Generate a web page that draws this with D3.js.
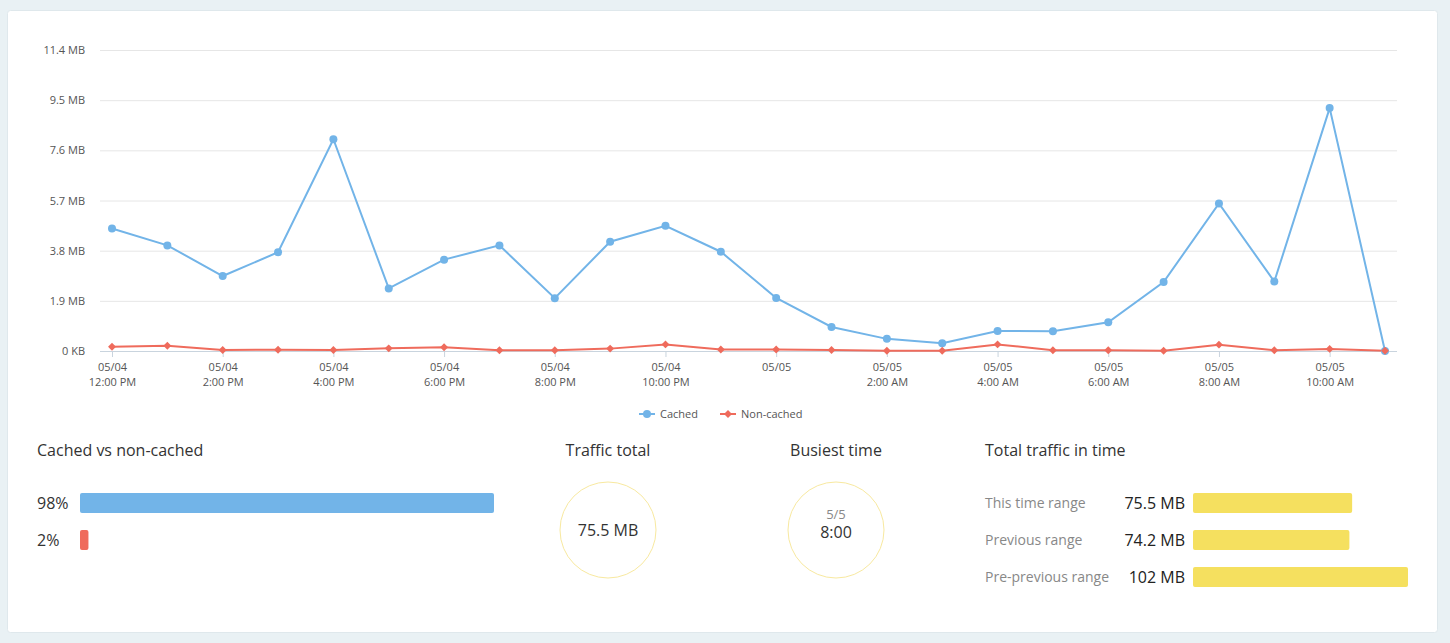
<!DOCTYPE html>
<html>
<head>
<meta charset="utf-8">
<script src="https://cdn.jsdelivr.net/npm/d3@7"></script>
<style>
  body { margin: 0; background: #e9f1f4; font-family: "Open Sans", sans-serif; }
  .canva { width: 1450px; height: 643px; }
</style>
</head>
<body>
<div class="canva"></div>
<script>
// hourly samples, values in MB
const hours = ["2017-05-04T12:00", "2017-05-04T13:00", "2017-05-04T14:00", "2017-05-04T15:00",
               "2017-05-04T16:00", "2017-05-04T17:00", "2017-05-04T18:00", "2017-05-04T19:00",
               "2017-05-04T20:00", "2017-05-04T21:00", "2017-05-04T22:00", "2017-05-04T23:00",
               "2017-05-05T00:00", "2017-05-05T01:00", "2017-05-05T02:00", "2017-05-05T03:00",
               "2017-05-05T04:00", "2017-05-05T05:00", "2017-05-05T06:00", "2017-05-05T07:00",
               "2017-05-05T08:00", "2017-05-05T09:00", "2017-05-05T10:00", "2017-05-05T11:00"];
const cached = [4.64, 4.00, 2.84, 3.74, 8.02, 2.37, 3.46, 4.00, 2.00, 4.14, 4.74, 3.76,
                2.01, 0.91, 0.46, 0.29, 0.76, 0.75, 1.09, 2.61, 5.59, 2.63, 9.20, 0];
const nonCached = [0.16, 0.20, 0.04, 0.05, 0.04, 0.10, 0.14, 0.03, 0.03, 0.09, 0.25, 0.06,
                   0.06, 0.04, 0.01, 0.01, 0.25, 0.03, 0.03, 0.01, 0.24, 0.03, 0.08, 0.01];
const yTicks = [0, 1.9, 3.8, 5.7, 7.6, 9.5, 11.4];
const yTickLabels = ["0 KB", "1.9 MB", "3.8 MB", "5.7 MB", "7.6 MB", "9.5 MB", "11.4 MB"];
const seriesNames = ["Cached", "Non-cached"];

const shareLabels = ["98%", "2%"];
const shareValues = [98, 2];

const trafficTotal = "75.5 MB";
const busiestDay = "5/5";
const busiestHour = "8:00";

const rangeNames = ["This time range", "Previous range", "Pre-previous range"];
const rangeValues = [75.5, 74.2, 102];
const rangeLabels = ["75.5 MB", "74.2 MB", "102 MB"];

const blue = "#72b4e8";
const red = "#ef6b5c";
const yellow = "#f5e05f";

const svg = d3.select(".canva").append("svg")
              .attr("width", 1450)
              .attr("height", 643);

// card
svg.append("rect")
   .attr("x", 7.5).attr("y", 10.5)
   .attr("width", 1430).attr("height", 622)
   .attr("rx", 3)
   .attr("fill", "#fff")
   .attr("stroke", "#dfe8ec");

const parseTime = d3.timeParse("%Y-%m-%dT%H:%M");
const dates = hours.map(parseTime);

const x = d3.scaleTime()
            .domain(d3.extent(dates))
            .range([112, 1385]);
const y = d3.scaleLinear()
            .domain([0, 11.4])
            .range([351, 50]);

// grid + y labels
const yAxis = d3.axisLeft(y)
                .tickValues(yTicks)
                .tickSize(-1297)
                .tickPadding(15)
                .tickFormat((d, i) => yTickLabels[i]);
const gy = svg.append("g")
              .attr("transform", "translate(100,0)")
              .call(yAxis);
gy.select(".domain").remove();
gy.selectAll(".tick line").attr("stroke", "#e6e6e6");
gy.selectAll(".tick text")
  .attr("fill", "#555")
  .style("font-size", "11px")
  .style("font-family", "Open Sans");

// x axis
const dateFmt = d3.timeFormat("%m/%d");
const timeFmt = d3.timeFormat("%-I:%M %p");
const xAxis = d3.axisBottom(x)
                .tickValues(dates.filter((d, i) => i % 2 == 0))
                .tickSize(6)
                .tickSizeOuter(0)
                .tickFormat("");
const gx = svg.append("g")
              .attr("transform", "translate(0,351)")
              .call(xAxis);
gx.select(".domain")
  .attr("d", "M100,0.5H1397")
  .attr("stroke", "#c9d4de");
gx.selectAll(".tick line").attr("stroke", "#c9d4de");
gx.selectAll(".tick").each(function(d) {
    const t = d3.select(this).append("text")
                .attr("fill", "#555")
                .attr("text-anchor", "middle")
                .style("font-size", "11px")
                .style("font-family", "Open Sans");
    t.append("tspan").attr("x", 0).attr("y", 20).text(dateFmt(d));
    if (d.getHours() != 0) {
        t.append("tspan").attr("x", 0).attr("y", 35).text(timeFmt(d));
    }
});

// lines
const line = d3.line()
               .x((d, i) => x(dates[i]))
               .y(d => y(d));

svg.append("path")
   .datum(cached)
   .attr("d", line)
   .attr("fill", "none")
   .attr("stroke", blue)
   .attr("stroke-width", 2);

svg.append("path")
   .datum(nonCached)
   .attr("d", line)
   .attr("fill", "none")
   .attr("stroke", red)
   .attr("stroke-width", 2);

svg.selectAll(".cachedDot")
   .data(cached)
   .enter()
   .append("circle")
   .attr("class", "cachedDot")
   .attr("cx", (d, i) => x(dates[i]))
   .attr("cy", d => y(d))
   .attr("r", 4)
   .attr("fill", blue);

const diamond = d3.symbol().type(d3.symbolDiamond2).size(40);
svg.selectAll(".nonCachedDot")
   .data(nonCached)
   .enter()
   .append("path")
   .attr("class", "nonCachedDot")
   .attr("d", diamond)
   .attr("transform", (d, i) => `translate(${x(dates[i])},${y(d)})`)
   .attr("fill", red);

// legend
const legend = svg.append("g").attr("transform", "translate(639,414)");
const legendItems = legend.selectAll("g")
    .data(seriesNames)
    .enter()
    .append("g")
    .attr("transform", (d, i) => `translate(${i * 81},0)`);
legendItems.append("line")
    .attr("x1", 0).attr("x2", 16)
    .attr("stroke", (d, i) => i == 0 ? blue : red)
    .attr("stroke-width", 2);
legendItems.each(function(d, i) {
    const g = d3.select(this);
    if (i == 0) {
        g.append("circle").attr("cx", 8).attr("r", 4).attr("fill", blue);
    } else {
        g.append("path").attr("d", diamond).attr("transform", "translate(8,0)").attr("fill", red);
    }
});
legendItems.append("text")
    .attr("x", 21).attr("y", 4)
    .attr("fill", "#555")
    .style("font-size", "11px")
    .text(d => d);

// bottom panels
function title(txt, px, anchor) {
    svg.append("text")
       .attr("x", px).attr("y", 456)
       .attr("text-anchor", anchor)
       .attr("fill", "#333")
       .style("font-size", "16px")
       .text(txt);
}
title("Cached vs non-cached", 37, "start");
title("Traffic total", 608, "middle");
title("Busiest time", 836, "middle");
title("Total traffic in time", 985, "start");

// cached vs non-cached bars
const share = d3.scaleLinear().domain([0, 98]).range([0, 414]);
svg.selectAll(".shareBar")
   .data(shareValues)
   .enter()
   .append("rect")
   .attr("class", "shareBar")
   .attr("x", 80)
   .attr("y", (d, i) => 493 + i * 37)
   .attr("width", d => share(d))
   .attr("height", 20)
   .attr("rx", 2)
   .attr("fill", (d, i) => i == 0 ? blue : red);
svg.selectAll(".shareLabel")
   .data(shareLabels)
   .enter()
   .append("text")
   .attr("class", "shareLabel")
   .attr("x", 37)
   .attr("y", (d, i) => 509 + i * 37)
   .attr("fill", "#333")
   .style("font-size", "16px")
   .text(d => d);

// circles
svg.append("circle")
   .attr("cx", 608).attr("cy", 530).attr("r", 48)
   .attr("fill", "none").attr("stroke", "#f8e9a0");
svg.append("text")
   .attr("x", 608).attr("y", 536)
   .attr("text-anchor", "middle")
   .attr("fill", "#333")
   .style("font-size", "16px")
   .text(trafficTotal);

svg.append("circle")
   .attr("cx", 836).attr("cy", 530).attr("r", 48)
   .attr("fill", "none").attr("stroke", "#f8e9a0");
svg.append("text")
   .attr("x", 836).attr("y", 519)
   .attr("text-anchor", "middle")
   .attr("fill", "#888")
   .style("font-size", "13px")
   .text(busiestDay);
svg.append("text")
   .attr("x", 836).attr("y", 538)
   .attr("text-anchor", "middle")
   .attr("fill", "#333")
   .style("font-size", "16px")
   .text(busiestHour);

// total traffic in time
const rangeX = d3.scaleLinear().domain([0, 102]).range([0, 215]);
const rows = svg.selectAll(".rangeRow")
   .data(rangeValues)
   .enter()
   .append("g")
   .attr("class", "rangeRow")
   .attr("transform", (d, i) => `translate(0,${493 + i * 37})`);
rows.append("text")
   .attr("x", 985).attr("y", 15)
   .attr("fill", "#888")
   .style("font-size", "14px")
   .text((d, i) => rangeNames[i]);
rows.append("text")
   .attr("x", 1185).attr("y", 16)
   .attr("text-anchor", "end")
   .attr("fill", "#222")
   .style("font-size", "16px")
   .text((d, i) => rangeLabels[i]);
rows.append("rect")
   .attr("x", 1193).attr("y", 0)
   .attr("width", d => rangeX(d))
   .attr("height", 20)
   .attr("rx", 2)
   .attr("fill", yellow);
</script>
</body>
</html>
